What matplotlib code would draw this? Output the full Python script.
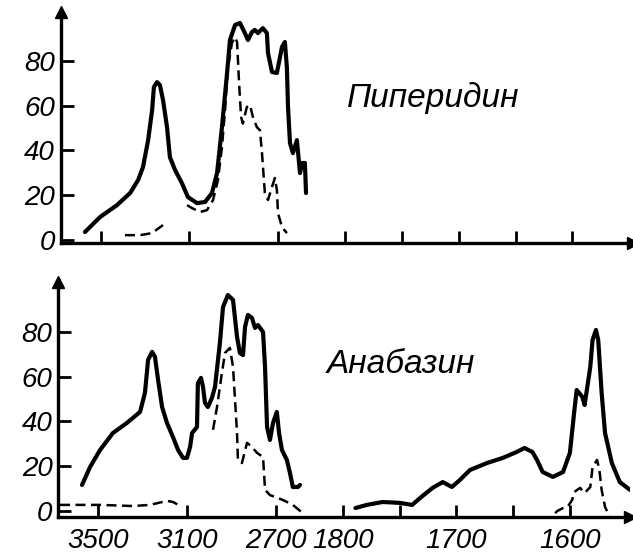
"""
IR absorption spectra of piperidine and anabasine (broken wavenumber axis)
"""

import numpy as np
import matplotlib
matplotlib.use('Agg')
import matplotlib.pyplot as plt

################################################################################
# Data: wavenumber (cm^-1) and absorption (%)

# Piperidine, solid curve
pip_w = [3570, 3502, 3426, 3367, 3331, 3309, 3286, 3268, 3260, 3246, 3233, 3219,
         3201, 3188, 3165, 3134, 3107, 3066, 3030, 2999, 2976, 2954, 2931, 2918,
         2895, 2873, 2851, 2837, 2819, 2806, 2792, 2770, 2752, 2747, 2729, 2707,
         2684, 2671, 2662, 2657, 2648, 2635, 2617, 2603, 2594, 2581, 2576]
pip_a = [3.6, 10.3, 15.6, 21.0, 26.8, 32.6, 44.6, 58.0, 68.3, 70.5, 69.2, 62.5,
         50.4, 37.0, 31.3, 25.4, 19.2, 16.5, 17.0, 21.0, 29.9, 50.4, 74.6, 89.3,
         96.0, 96.9, 92.4, 89.3, 92.9, 93.8, 92.4, 94.6, 92.4, 83.5, 75.0, 74.6,
         86.2, 88.4, 77.0, 59.4, 43.3, 38.8, 44.6, 29.9, 34.4, 34.4, 21.0]

# Piperidine, dashed curve (two pieces)
pip_d1_w = [3390, 3322, 3269, 3219]
pip_d1_a = [2.2, 2.2, 3.1, 6.7]
pip_d2_w = [3111, 3089, 3053, 3021, 2994, 2972, 2954, 2940, 2927, 2909, 2895,
            2886, 2877, 2868, 2860, 2842, 2828, 2815, 2797, 2783, 2774, 2761,
            2747, 2729, 2716, 2707, 2702, 2684, 2662]
pip_d2_a = [15.6, 14.3, 12.5, 13.4, 17.9, 26.8, 41.5, 58.0, 77.2, 88.0, 90.6,
            88.4, 70.0, 55.0, 52.0, 59.4, 60.3, 55.0, 50.4, 49.0, 38.8, 21.0,
            17.9, 23.7, 27.7, 22.3, 12.0, 5.8, 3.1]

# Anabasine, solid curve, 3600-2600 region
ana1_w = [3572, 3536, 3491, 3433, 3370, 3311, 3289, 3275, 3257, 3244, 3230, 3212,
          3190, 3163, 3140, 3118, 3100, 3086, 3077, 3055, 3051, 3037, 3028, 3019,
          3006, 2988, 2974, 2952, 2938, 2916, 2893, 2875, 2862, 2848, 2839, 2826,
          2808, 2794, 2781, 2758, 2749, 2740, 2727, 2713, 2696, 2686, 2673, 2651,
          2637, 2624, 2601, 2592]
ana1_a = [11.6, 19.6, 27.2, 34.8, 39.3, 44.2, 52.7, 67.4, 71.0, 68.8, 58.5, 46.4,
          39.3, 33.0, 27.2, 23.7, 23.7, 28.6, 34.8, 37.5, 57.0, 59.4, 55.4, 48.2,
          46.4, 50.4, 55.4, 75.0, 91.0, 96.4, 94.2, 77.7, 70.5, 69.6, 82.1, 87.5,
          86.2, 81.7, 83.0, 79.9, 64.3, 37.5, 31.7, 39.3, 44.2, 34.8, 27.2, 22.8,
          17.0, 10.7, 10.7, 11.6]

# Anabasine, solid curve, 1800-1550 region
ana2_w = [1789, 1779, 1765, 1750, 1739, 1732, 1721, 1712, 1704, 1697, 1688, 1673,
          1659, 1647, 1640, 1633, 1629, 1624, 1615, 1606, 1600, 1596, 1594, 1589,
          1587, 1582, 1580, 1577, 1575, 1572, 1569, 1563, 1556, 1547]
ana2_a = [1.3, 2.7, 4.0, 3.6, 2.7, 5.8, 10.3, 12.9, 10.7, 13.8, 18.3, 21.4,
          23.7, 26.3, 28.1, 26.3, 22.8, 17.4, 15.2, 17.4, 25.9, 45.0, 54.0, 50.9,
          47.3, 64.3, 76.3, 80.8, 76.3, 52.7, 34.8, 21.4, 12.9, 9.4]

# Anabasine, dashed curve (three pieces)
ana_d1_w = [3671, 3491, 3343, 3266, 3190, 3163, 3122]
ana_d1_a = [2.7, 2.7, 2.2, 2.7, 4.5, 4.0, 1.8]
ana_d2_w = [2983, 2965, 2943, 2929, 2907, 2893, 2884, 2875, 2871, 2853, 2830,
            2808, 2785, 2758, 2749, 2727, 2669, 2624, 2579]
ana_d2_a = [36.2, 46.4, 61.6, 70.5, 72.8, 64.3, 49.6, 34.8, 22.8, 21.4, 30.4,
            28.6, 25.9, 24.1, 9.4, 7.1, 4.9, 2.7, -1.0]
ana_d3_w = [1613, 1611, 1606, 1602, 1598, 1596, 1591, 1587, 1582, 1580, 1576,
            1574, 1572, 1569, 1565]
ana_d3_a = [-1.0, 0.0, 1.3, 1.8, 4.9, 8.5, 10.3, 8.0, 10.7, 19.6, 22.8,
            18.3, 9.4, 1.8, -2.5]

# Axis ticks
x_ticks = [3500, 3100, 2700, 1800, 1750, 1700, 1650, 1600]
x_labels = ['3500', '3100', '2700', '1800', '', '1700', '', '1600']
y_ticks = [0, 20, 40, 60, 80]

################################################################################
plt.rcParams['font.family'] = ['Liberation Sans', 'DejaVu Sans']
plt.rcParams['font.style'] = 'italic'

# Broken wavenumber scale: 3600-2550 squeezed, 1800-1550 stretched
# (increasing function of wavenumber, axis is inverted afterwards)
brk_w = [1000, 1800, 2520, 4500]
brk_x = [-1251.0, -343.0, -316.0, 124.5]


def fwd(w):
    return np.interp(w, brk_w, brk_x)


def inv(x):
    return np.interp(x, brk_x, brk_w)


def style_axes(ax, ylim, tick_labels=True):
    """Broken wavenumber axis with arrows, ticks pointing inwards"""
    ax.set_xscale('function', functions=(fwd, inv))
    ax.set_xticks(x_ticks)
    ax.set_xticklabels(x_labels if tick_labels else [])
    ax.set_xlim(1547, 3680)
    ax.invert_xaxis()
    ax.set_ylim(*ylim)
    for s in ['top', 'right']:
        ax.spines[s].set_visible(False)
    for s in ['left', 'bottom']:
        ax.spines[s].set_linewidth(2.4)
    ax.set_yticks(y_ticks)
    ax.set_yticklabels([str(v) for v in y_ticks])
    ax.minorticks_off()
    ax.tick_params(direction='in', length=9, width=2, labelsize=20)
    ax.tick_params(axis='x', pad=8)
    ax.tick_params(axis='y', pad=4)
    # arrow heads
    ax.plot(0, 1, marker='^', ms=9, color='k', transform=ax.transAxes, clip_on=False)
    ax.plot(1, 0, marker='>', ms=9, color='k', transform=ax.transAxes, clip_on=False)


solid_kw = dict(color='k', lw=3.0, solid_capstyle='round', solid_joinstyle='round')
dash_kw = dict(color='k', lw=1.8, ls=(0, (4, 2.2)))

fig = plt.figure(figsize=(6.33, 5.58), dpi=100)
ax_top = fig.add_axes([60.5 / 633, 315 / 558, 572 / 633, 231 / 558])
ax_bot = fig.add_axes([58 / 633, 41 / 558, 572 / 633, 235 / 558])

# Piperidine
ax_top.plot(pip_w, pip_a, **solid_kw)
ax_top.plot(pip_d1_w, pip_d1_a, **dash_kw)
ax_top.plot(pip_d2_w, pip_d2_a, **dash_kw)
style_axes(ax_top, (-1.3, 101.8), tick_labels=False)
ax_top.text(1723, 63.4, 'Пиперидин', fontsize=24, ha='center', va='center')

# Anabasine
ax_bot.plot(ana1_w, ana1_a, **solid_kw)
ax_bot.plot(ana2_w, ana2_a, **solid_kw)
ax_bot.plot(ana_d1_w, ana_d1_a, **dash_kw)
ax_bot.plot(ana_d2_w, ana_d2_a, **dash_kw)
ax_bot.plot(ana_d3_w, ana_d3_a, **dash_kw)
style_axes(ax_bot, (-2.7, 102.2))
ax_bot.text(1749, 65.2, 'Анабазин', fontsize=24, ha='center', va='center')

plt.savefig('out.png', dpi=100)
